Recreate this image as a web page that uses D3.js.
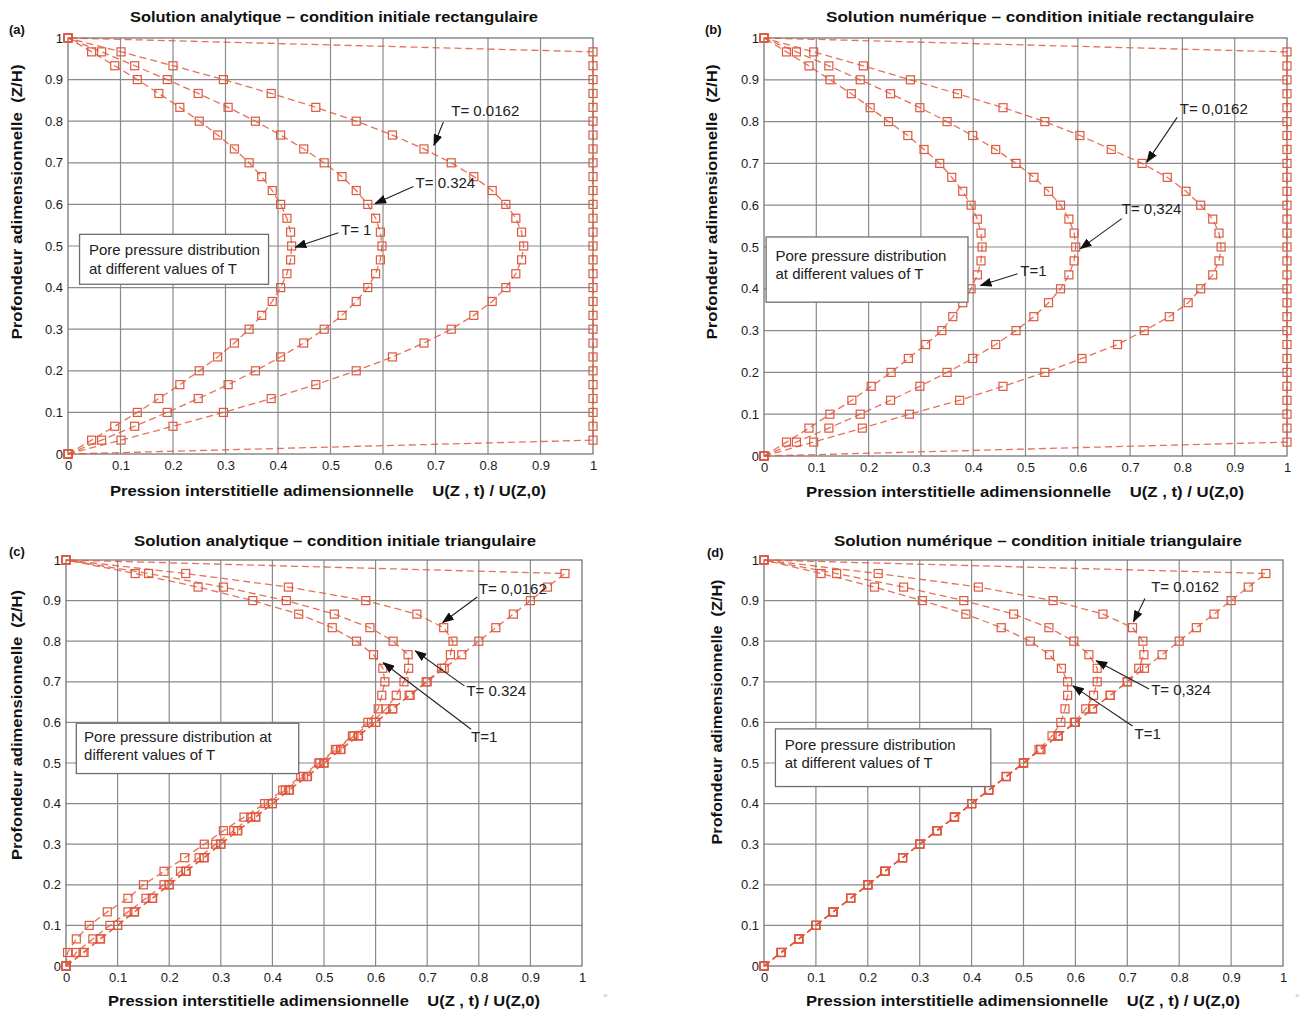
<!DOCTYPE html>
<html><head><meta charset="utf-8">
<script src="https://cdn.jsdelivr.net/npm/d3@7"></script>
<style>
body{margin:0;background:#fff;}
svg{display:block;font-family:"Liberation Sans",Arial,sans-serif;}
</style></head><body>
<svg id="chart" width="1310" height="1014"></svg>
<script>
// ---------------- DATA ----------------
const depth = [0,0.0333,0.0667,0.1,0.1333,0.1667,0.2,0.2333,0.2667,0.3,0.3333,0.3667,0.4,0.4333,0.4667,0.5,0.5333,0.5667,0.6,0.6333,0.6667,0.7,0.7333,0.7667,0.8,0.8333,0.8667,0.9,0.9333,0.9667,1];
const tickValues = [0,0.1,0.2,0.3,0.4,0.5,0.6,0.7,0.8,0.9,1];
const tickLabels = ["0","0.1","0.2","0.3","0.4","0.5","0.6","0.7","0.8","0.9","1"];

// rectangular initial condition
const rectInitial = [0,1,1,1,1,1,1,1,1,1,1,1,1,1,1,1,1,1,1,1,1,1,1,1,1,1,1,1,1,1,0];
const rectAnalyticT0162 = [0,0.101,0.200,0.296,0.387,0.472,0.549,0.618,0.678,0.730,0.773,0.808,0.834,0.853,0.864,0.868,0.864,0.853,0.834,0.808,0.773,0.730,0.678,0.618,0.549,0.472,0.387,0.296,0.200,0.101,0];
const rectAnalyticT0324 = [0,0.064,0.127,0.189,0.248,0.305,0.357,0.405,0.449,0.488,0.522,0.549,0.571,0.586,0.595,0.598,0.595,0.586,0.571,0.549,0.522,0.488,0.449,0.405,0.357,0.305,0.248,0.189,0.127,0.064,0];
const rectAnalyticT1 = [0,0.045,0.089,0.132,0.173,0.213,0.250,0.285,0.317,0.345,0.369,0.389,0.405,0.417,0.424,0.426,0.424,0.417,0.405,0.389,0.369,0.345,0.317,0.285,0.250,0.213,0.173,0.132,0.089,0.045,0];
const rectNumericT0162 = [0,0.095,0.188,0.278,0.374,0.457,0.537,0.608,0.676,0.727,0.775,0.811,0.835,0.858,0.870,0.874,0.870,0.858,0.835,0.807,0.771,0.723,0.664,0.604,0.537,0.457,0.370,0.280,0.190,0.095,0];
const rectNumericT0324 = [0,0.062,0.124,0.184,0.242,0.298,0.350,0.399,0.443,0.482,0.516,0.544,0.567,0.583,0.593,0.596,0.593,0.583,0.567,0.544,0.516,0.482,0.443,0.399,0.350,0.298,0.242,0.184,0.124,0.062,0];
const rectNumericT1 = [0,0.043,0.086,0.126,0.168,0.205,0.243,0.276,0.309,0.340,0.361,0.380,0.396,0.408,0.415,0.417,0.415,0.408,0.396,0.380,0.359,0.336,0.306,0.275,0.238,0.203,0.167,0.126,0.086,0.043,0];

// triangular initial condition
const triInitial = [0,0.033,0.067,0.1,0.133,0.167,0.2,0.233,0.267,0.3,0.333,0.367,0.4,0.433,0.467,0.5,0.533,0.567,0.6,0.633,0.667,0.7,0.733,0.767,0.8,0.833,0.867,0.9,0.933,0.967,0];
const triAnalyticT0162 = [0,0.035,0.066,0.1,0.132,0.168,0.2,0.232,0.268,0.3,0.332,0.368,0.4,0.432,0.468,0.5,0.532,0.566,0.6,0.633,0.665,0.698,0.728,0.745,0.75,0.732,0.68,0.581,0.431,0.232,0];
const triAnalyticT0324 = [0,0.02,0.052,0.085,0.12,0.155,0.19,0.222,0.258,0.29,0.325,0.358,0.392,0.425,0.46,0.492,0.525,0.558,0.592,0.62,0.64,0.655,0.664,0.663,0.634,0.589,0.52,0.427,0.305,0.16,0];
const triAnalyticT1 = [0,0.003,0.02,0.045,0.08,0.12,0.15,0.19,0.23,0.268,0.305,0.345,0.385,0.42,0.455,0.49,0.522,0.555,0.585,0.605,0.612,0.618,0.614,0.596,0.563,0.516,0.451,0.362,0.256,0.134,0];
const triNumericT0162 = [0,0.033,0.067,0.1,0.133,0.167,0.2,0.233,0.267,0.3,0.333,0.367,0.4,0.433,0.467,0.5,0.533,0.567,0.6,0.633,0.667,0.7,0.722,0.732,0.73,0.71,0.653,0.557,0.413,0.22,0];
const triNumericT0324 = [0,0.033,0.067,0.1,0.133,0.167,0.2,0.233,0.267,0.3,0.333,0.367,0.4,0.433,0.467,0.5,0.533,0.567,0.598,0.62,0.635,0.642,0.642,0.626,0.597,0.549,0.481,0.385,0.269,0.14,0];
const triNumericT1 = [0,0.033,0.067,0.1,0.133,0.167,0.2,0.233,0.267,0.3,0.333,0.367,0.4,0.433,0.467,0.5,0.53,0.555,0.572,0.58,0.585,0.585,0.573,0.55,0.513,0.457,0.389,0.305,0.213,0.11,0];

const titles = ["Solution analytique – condition initiale rectangulaire","Solution numérique – condition initiale rectangulaire","Solution analytique – condition initiale triangulaire","Solution numérique – condition initiale triangulaire"];
const panelLetters = ["(a)","(b)","(c)","(d)"];
const xAxisTitle = "Pression interstitielle adimensionnelle    U(Z , t) / U(Z,0)";
const yAxisTitle = "Profondeur adimensionnelle  (Z/H)";

// ---------------- LAYOUT ----------------
const RED = "#e0583d";
const svg = d3.select("#chart");
const defs = svg.append("defs");
defs.append("marker").attr("id","arrow").attr("markerUnits","userSpaceOnUse")
  .attr("markerWidth",12).attr("markerHeight",9).attr("refX",11).attr("refY",4.5).attr("orient","auto")
  .append("path").attr("d","M0,0 L12,4.5 L0,9 Z").attr("fill","#111");

const panels = [
 {x0:68,x1:593,yb:454,yt:38, title:{cx:334,y:18,w:408}, letter:{x:9,y:31},
  xt:{cx:328,y:492,w:436}, yt2:{x:18,cy:202,w:275},
  series:[rectInitial,rectAnalyticT0162,rectAnalyticT0324,rectAnalyticT1],
  box:{x0:0.022,x1:0.382,top:0.528,bot:0.408,tx:0.04,lines:["Pore pressure distribution","at different values of T"],ly:[0.488,0.442]},
  notes:[{t:"T= 0.0162",x:0.73,y:0.822,f:[0.715,0.798],to:[0.697,0.742]},
         {t:"T= 0.324",x:0.662,y:0.648,f:[0.658,0.643],to:[0.585,0.602]},
         {t:"T= 1",x:0.52,y:0.536,f:[0.515,0.532],to:[0.433,0.497]}]},
 {x0:764,x1:1287,yb:456,yt:38, title:{cx:1040,y:18,w:428}, letter:{x:705,y:31},
  xt:{cx:1025,y:493,w:438}, yt2:{x:713,cy:202,w:275},
  series:[rectInitial,rectNumericT0162,rectNumericT0324,rectNumericT1],
  box:{x0:0.004,x1:0.39,top:0.524,bot:0.368,tx:0.022,lines:["Pore pressure distribution","at different values of T"],ly:[0.476,0.432]},
  notes:[{t:"T= 0,0162",x:0.795,y:0.828,f:[0.79,0.81],to:[0.732,0.703]},
         {t:"T= 0,324",x:0.684,y:0.588,f:[0.684,0.568],to:[0.605,0.496]},
         {t:"T=1",x:0.49,y:0.44,f:[0.485,0.436],to:[0.414,0.408]}]},
 {x0:66,x1:582,yb:966,yt:560, title:{cx:335,y:542,w:402}, letter:{x:9,y:553},
  xt:{cx:324,y:1002,w:432}, yt2:{x:18,cy:725,w:270},
  series:[triInitial,triAnalyticT0162,triAnalyticT0324,triAnalyticT1],
  box:{x0:0.02,x1:0.451,top:0.598,bot:0.474,tx:0.035,lines:["Pore pressure distribution at","different values of T"],ly:[0.562,0.517]},
  notes:[{t:"T= 0,0162",x:0.80,y:0.926,f:[0.797,0.909],to:[0.73,0.846]},
         {t:"T= 0.324",x:0.776,y:0.674,f:[0.772,0.69],to:[0.677,0.776]},
         {t:"T=1",x:0.785,y:0.562,f:[0.785,0.583],to:[0.615,0.747]}]},
 {x0:764,x1:1283,yb:966,yt:560, title:{cx:1038,y:542,w:408}, letter:{x:707,y:554},
  xt:{cx:1023,y:1002,w:434}, yt2:{x:718,cy:712,w:265},
  series:[triInitial,triNumericT0162,triNumericT0324,triNumericT1],
  box:{x0:0.022,x1:0.437,top:0.584,bot:0.442,tx:0.04,lines:["Pore pressure distribution","at different values of T"],ly:[0.541,0.497]},
  notes:[{t:"T= 0.0162",x:0.746,y:0.93,f:[0.734,0.905],to:[0.712,0.848]},
         {t:"T= 0,324",x:0.746,y:0.678,f:[0.742,0.682],to:[0.64,0.752]},
         {t:"T=1",x:0.714,y:0.57,f:[0.71,0.591],to:[0.595,0.69]}]}
];

panels.forEach((p,i)=>{
  const x = d3.scaleLinear().domain([0,1]).range([p.x0,p.x1]);
  const y = d3.scaleLinear().domain([0,1]).range([p.yb,p.yt]);
  const g = svg.append("g");

  // grid
  g.append("g").selectAll("line").data(tickValues.slice(1,-1)).join("line")
    .attr("x1",d=>x(d)).attr("x2",d=>x(d)).attr("y1",y(0)).attr("y2",y(1))
    .attr("stroke","#8a8a8a").attr("stroke-width",1.2);
  g.append("g").selectAll("line").data(tickValues.slice(1,-1)).join("line")
    .attr("y1",d=>y(d)).attr("y2",d=>y(d)).attr("x1",x(0)).attr("x2",x(1))
    .attr("stroke","#8a8a8a").attr("stroke-width",1.2);
  g.append("rect").attr("x",x(0)).attr("y",y(1)).attr("width",x(1)-x(0)).attr("height",y(0)-y(1))
    .attr("fill","none").attr("stroke","#777").attr("stroke-width",1.3);

  // axes
  const ax = d3.axisBottom(x).tickValues(tickValues).tickFormat((d,j)=>tickLabels[j]).tickSize(0).tickPadding(7);
  const axG = g.append("g").attr("transform",`translate(0,${y(0)})`).call(ax);
  axG.select(".domain").remove();
  axG.selectAll("text").attr("font-size",13).attr("fill","#1a1a1a").attr("font-family","Liberation Sans, Arial");
  const ay = d3.axisLeft(y).tickValues(tickValues).tickFormat((d,j)=>tickLabels[j]).tickSize(0).tickPadding(5);
  const ayG = g.append("g").attr("transform",`translate(${x(0)},0)`).call(ay);
  ayG.select(".domain").remove();
  ayG.selectAll("text").attr("font-size",13).attr("fill","#1a1a1a").attr("font-family","Liberation Sans, Arial");

  // curves
  const line = d3.line().x(d=>x(d[0])).y(d=>y(d[1]));
  p.series.forEach(s=>{
    const pts = s.map((v,k)=>[v,depth[k]]);
    g.append("path").datum(pts).attr("d",line).attr("fill","none")
      .attr("stroke",RED).attr("stroke-width",1.3).attr("stroke-dasharray","7,4").attr("opacity",0.85);
    g.append("g").selectAll("rect").data(pts).join("rect")
      .attr("x",d=>x(d[0])-4).attr("y",d=>y(d[1])-4).attr("width",8).attr("height",8)
      .attr("fill","none").attr("stroke",RED).attr("stroke-width",1.2);
  });

  // legend box
  const b = p.box;
  g.append("rect").attr("x",x(b.x0)).attr("y",y(b.top)).attr("width",x(b.x1)-x(b.x0)).attr("height",y(b.bot)-y(b.top))
    .attr("fill","#fff").attr("stroke","#6e6e6e").attr("stroke-width",1.3);
  b.lines.forEach((t,j)=>{
    g.append("text").attr("x",x(b.tx)).attr("y",y(b.ly[j])).attr("dominant-baseline","middle")
      .attr("font-size",15).attr("fill","#222").attr("letter-spacing","0").text(t);
  });

  // annotations
  p.notes.forEach(n=>{
    g.append("line").attr("x1",x(n.f[0])).attr("y1",y(n.f[1])).attr("x2",x(n.to[0])).attr("y2",y(n.to[1]))
      .attr("stroke","#222").attr("stroke-width",1.1).attr("marker-end","url(#arrow)");
    g.append("text").attr("x",x(n.x)).attr("y",y(n.y)).attr("dominant-baseline","middle")
      .attr("font-size",15).attr("fill","#222").text(n.t);
  });

  // texts
  svg.append("text").attr("x",p.title.cx).attr("y",p.title.y).attr("text-anchor","middle").attr("dominant-baseline","middle")
    .attr("font-weight","bold").attr("font-size",14.5).attr("fill","#111")
    .attr("textLength",p.title.w).attr("lengthAdjust","spacingAndGlyphs").text(titles[i]);
  svg.append("text").attr("x",p.letter.x).attr("y",p.letter.y).attr("dominant-baseline","middle")
    .attr("font-weight","bold").attr("font-size",13).attr("fill","#111").text(panelLetters[i]);
  svg.append("text").attr("x",p.xt.cx).attr("y",p.xt.y).attr("text-anchor","middle").attr("dominant-baseline","middle")
    .attr("font-weight","bold").attr("font-size",14).attr("fill","#111").style("white-space","pre")
    .attr("textLength",p.xt.w).attr("lengthAdjust","spacingAndGlyphs").text(xAxisTitle);
  svg.append("text").attr("transform",`translate(${p.yt2.x},${p.yt2.cy}) rotate(-90)`)
    .attr("text-anchor","middle").attr("dominant-baseline","middle")
    .attr("font-weight","bold").attr("font-size",14).attr("fill","#111").style("white-space","pre")
    .attr("textLength",p.yt2.w).attr("lengthAdjust","spacingAndGlyphs").text(yAxisTitle);
});

svg.append("text").attr("x",603).attr("y",998).attr("font-size",8).attr("fill","#bbb").text("»");
svg.append("text").attr("x",1295).attr("y",998).attr("font-size",8).attr("fill","#bbb").text("»");
</script>
</body></html>
